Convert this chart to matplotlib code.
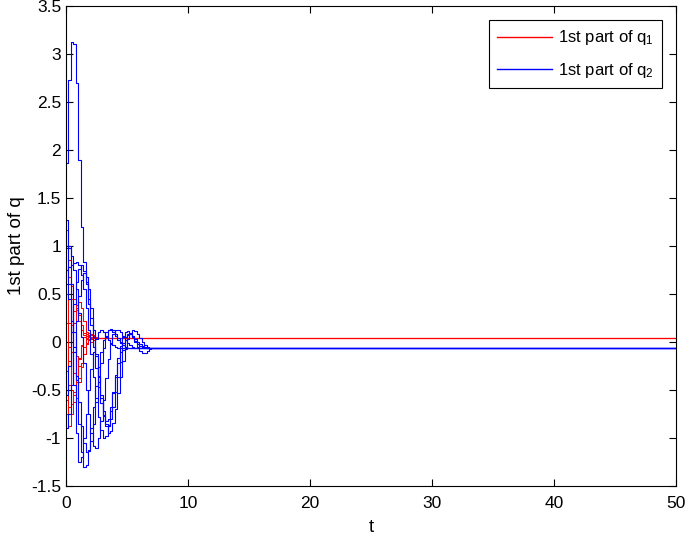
import numpy as np
import matplotlib
matplotlib.use("Agg")
import matplotlib.pyplot as plt
from matplotlib.lines import Line2D
from matplotlib.ticker import FuncFormatter

plt.rcParams['font.family'] = ['Liberation Sans', 'DejaVu Sans']
plt.rcParams['axes.unicode_minus'] = False

# ================= Data =================
DT = 0.2       # sample step of the stairs
T_END = 50

# 1st part of q_1 (red), samples every DT, last value held to T_END
q1_a = [1.17, 0.85, 0.45, 0.10, -0.15, -0.25, -0.22, -0.12, -0.02, 0.05, 0.08, 0.07, 0.05, 0.04]
q1_b = [0.75, 0.68, 0.58, 0.45, 0.33, 0.22, 0.13, 0.07, 0.04, 0.03, 0.04]
q1_c = [0.50, 0.20, -0.10, -0.32, -0.42, -0.38, -0.26, -0.12, -0.01, 0.06, 0.08, 0.06, 0.04]
q1_d = [-0.30, -0.05, 0.18, 0.32, 0.35, 0.28, 0.18, 0.09, 0.03, 0.02, 0.03, 0.04]
q1_e = [-0.60, -0.68, -0.65, -0.52, -0.35, -0.18, -0.04, 0.05, 0.08, 0.07, 0.05, 0.04]
q1_f = [-0.75, -0.45, -0.10, 0.20, 0.38, 0.42, 0.35, 0.22, 0.10, 0.02, 0.00, 0.02, 0.04]
q1_g = [-0.90, -0.88, -0.75, -0.55, -0.35, -0.17, -0.03, 0.05, 0.08, 0.07, 0.05, 0.04]
q1_h = [0.20, -0.20, -0.50, -0.62, -0.58, -0.42, -0.22, -0.05, 0.06, 0.09, 0.07, 0.05, 0.04]

# 1st part of q_2 (blue)
q2_a = [1.86, 2.73, 3.12, 3.10, 2.70, 1.90, 1.20, 0.83, 0.62, 0.45, 0.25, 0.05,
        -0.15, -0.35, -0.55, -0.72, -0.82, -0.80, -0.68, -0.52, -0.36, -0.22,
        -0.10, -0.01, 0.05, 0.08, 0.08, 0.06, 0.03, 0.00, -0.02, -0.04, -0.05, -0.06]
q2_b = [1.27, 1.00, 0.60, 0.10, -0.40, -0.85, -1.15, -1.30, -1.28, -1.12, -0.90,
        -0.68, -0.46, -0.26, -0.10, 0.02, 0.10, 0.13, 0.13, 0.10, 0.06, 0.02,
        -0.01, -0.03, -0.05, -0.06]
q2_c = [1.00, 0.60, 0.10, -0.45, -0.95, -1.25, -1.20, -1.00, -0.75, -0.50, -0.28,
        -0.10, 0.03, 0.10, 0.12, 0.10, 0.06, 0.02, -0.01, -0.03, -0.05, -0.06]
q2_d = [0.98, 0.98, 0.90, 0.75, 0.55, 0.30, 0.05, -0.22, -0.50, -0.75, -0.95,
        -1.08, -1.10, -1.00, -0.82, -0.60, -0.38, -0.18, -0.02, 0.08, 0.13, 0.13,
        0.10, 0.06, 0.02, -0.01, -0.03, -0.05, -0.06]
q2_e = [0.75, 0.78, 0.80, 0.82, 0.83, 0.80, 0.70, 0.55, 0.35, 0.12, -0.12, -0.36,
        -0.58, -0.78, -0.92, -1.00, -0.98, -0.88, -0.72, -0.53, -0.34, -0.17,
        -0.04, 0.05, 0.10, 0.11, 0.09, 0.05, 0.01, -0.02, -0.04, -0.05, -0.06]
q2_f = [-0.55, -0.25, 0.10, 0.40, 0.62, 0.76, 0.80, 0.74, 0.60, 0.40, 0.18, -0.05,
        -0.27, -0.47, -0.64, -0.77, -0.85, -0.86, -0.80, -0.68, -0.52, -0.36, -0.21,
        -0.08, 0.02, 0.07, 0.08, 0.05, 0.00, -0.05, -0.09, -0.11, -0.11, -0.09,
        -0.07, -0.06]
q2_g = [-0.90, -0.75, -0.45, -0.10, 0.22, 0.48, 0.65, 0.72, 0.68, 0.55, 0.35, 0.12,
        -0.12, -0.36, -0.58, -0.76, -0.88, -0.95, -0.93, -0.84, -0.70, -0.53, -0.36,
        -0.20, -0.07, 0.03, 0.09, 0.12, 0.11, 0.08, 0.04, 0.00, -0.03, -0.05, -0.06]
q2_h = [0.60, 0.45, 0.22, -0.05, -0.35, -0.63, -0.87, -1.05, -1.15, -1.14, -1.03,
        -0.85, -0.63, -0.42, -0.22, -0.06, 0.05, 0.12, 0.14, 0.12, 0.08, 0.04,
        0.00, -0.03, -0.05, -0.06]

q1_series = [q1_a, q1_b, q1_c, q1_d, q1_e, q1_f, q1_g, q1_h]
q2_series = [q2_a, q2_b, q2_c, q2_d, q2_e, q2_f, q2_g, q2_h]

x_ticks = [0, 10, 20, 30, 40, 50]
y_ticks = [-1.5, -1, -0.5, 0, 0.5, 1, 1.5, 2, 2.5, 3, 3.5]

RED = '#ff0000'
BLUE = '#0000ff'


def stairs(ax, vals, color, lw):
    t = np.append(np.arange(len(vals)) * DT, T_END)
    v = np.append(vals, vals[-1])
    ax.step(t, v, where='post', color=color, lw=lw)


fig = plt.figure(figsize=(6.85, 5.4), dpi=100)
ax = fig.add_axes([0.0964, 0.1, 0.8906, 0.889])

for s in q1_series:
    stairs(ax, s, RED, 0.75)
for s in q2_series:
    stairs(ax, s, BLUE, 0.8)

ax.set_xlim(0, 50)
ax.set_ylim(-1.5, 3.5)
ax.set_xticks(x_ticks)
ax.set_yticks(y_ticks)
ax.yaxis.set_major_formatter(FuncFormatter(lambda v, p: '%g' % v))
ax.tick_params(direction='in', length=5, width=0.8, top=True, right=True,
               labelsize=12.5)
ax.tick_params(axis='x', pad=7)
for sp in ax.spines.values():
    sp.set_linewidth(0.8)

ax.set_xlabel('t', fontsize=13.5, labelpad=6)
ax.set_ylabel('1st part of q', fontsize=13.5)

handles = [Line2D([], [], color=RED, lw=1.0), Line2D([], [], color=BLUE, lw=1.0)]
labels = ['1st part of $\\mathregular{q_1}$', '1st part of $\\mathregular{q_2}$']
leg = ax.legend(handles, labels, loc='upper right', fontsize=12, handlelength=3.3,
                handletextpad=0.35, labelspacing=0.8, borderpad=0.5,
                fancybox=False, framealpha=1, edgecolor='black',
                borderaxespad=0.85)
leg.get_frame().set_linewidth(0.8)

fig.savefig('out.png', dpi=100)
